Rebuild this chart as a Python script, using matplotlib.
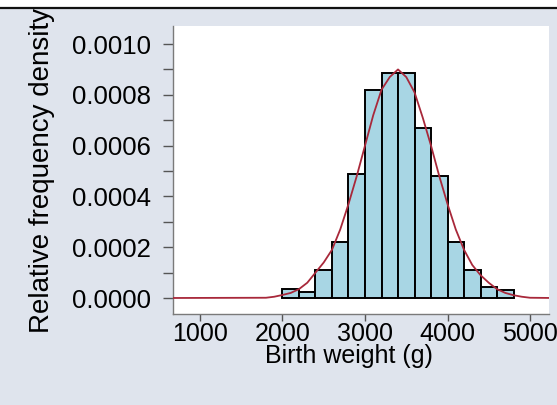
import matplotlib
matplotlib.use("Agg")
import matplotlib.pyplot as plt
from matplotlib.patches import Rectangle
from matplotlib.lines import Line2D
from matplotlib.ticker import FixedLocator

# ---- data ----
bin_left = [2000, 2200, 2400, 2600, 2800, 3000, 3200, 3400, 3600, 3800, 4000, 4200, 4400, 4600]
bin_width = 200
density = [0.000034, 0.000022, 0.00011, 0.000222, 0.00049, 0.00082, 0.000885,
           0.000885, 0.00067, 0.00048, 0.00022, 0.00011, 0.000042, 0.000031]

curve_x = [600, 1800, 1900, 2000, 2100, 2200, 2300, 2400, 2500, 2600, 2700, 2800, 2900,
           3000, 3100, 3200, 3300, 3400, 3500, 3600, 3700, 3800, 3900, 4000, 4100,
           4200, 4300, 4400, 4500, 4600, 4700, 4800, 4900, 5000, 5300]
curve_y = [0.0, 0.000001, 0.000005, 0.000012, 0.00002, 0.000035, 0.00006, 0.0001,
           0.00014, 0.00019, 0.00027, 0.00037, 0.00048, 0.0006, 0.00072, 0.00082,
           0.00087, 0.0009, 0.00087, 0.00081, 0.00071, 0.0006, 0.00048, 0.00037,
           0.00027, 0.00019, 0.00013, 0.00009, 0.00006, 0.000035, 0.00002,
           0.000011, 0.000005, 0.000001, 0.0]

x_ticks = [1000, 2000, 3000, 4000, 5000]
y_ticks = [0.0, 0.0002, 0.0004, 0.0006, 0.0008, 0.0010]
y_minor = [0.0001, 0.0003, 0.0005, 0.0007, 0.0009]
x_label = "Birth weight (g)"
y_label = "Relative frequency density"

# ---- figure ----
W, H = 557, 405
bg = "#dfe4ed"
plt.rcParams['font.family'] = ['Liberation Sans', 'DejaVu Sans']
fig = plt.figure(figsize=(W / 100, H / 100), dpi=100, facecolor=bg)

# top white strip and dark rule
fig.patches.append(Rectangle((0, 1 - 7 / H), 1, 7 / H, transform=fig.transFigure,
                             facecolor="white", edgecolor="none", zorder=0))
fig.lines.append(Line2D([0, 1], [1 - 8 / H, 1 - 8 / H], transform=fig.transFigure,
                        color="#111111", lw=1.6))

ax = fig.add_axes([173 / W, 1 - 314 / H, (549 - 173) / W, (314 - 25.5) / H])
ax.set_facecolor("white")

ax.bar(bin_left, density, width=bin_width, align="edge", color="#a8d6e4",
       edgecolor="black", linewidth=1.4, zorder=2)
ax.plot(curve_x, curve_y, color="#a8283a", lw=1.3, zorder=3)

ax.set_xlim(673, 5230)
ax.set_ylim(-0.000063, 0.001073)

ax.set_xticks(x_ticks)
ax.set_xticklabels([str(t) for t in x_ticks])
ax.set_yticks(y_ticks)
ax.set_yticklabels(["%.4f" % t for t in y_ticks])
ax.yaxis.set_minor_locator(FixedLocator(y_minor))

for s in ["top", "right"]:
    ax.spines[s].set_visible(False)
for s in ["left", "bottom"]:
    ax.spines[s].set_color("#7a7a7a")
    ax.spines[s].set_linewidth(1.0)

ax.tick_params(axis="both", which="both", direction="out", color="#555555", width=1.0)
ax.tick_params(axis="y", which="major", length=7, labelsize=18.5, pad=9)
ax.tick_params(axis="y", which="minor", length=7)
ax.tick_params(axis="x", which="major", length=5, labelsize=18, pad=1)

ax.set_xlabel(x_label, fontsize=18)
ax.xaxis.set_label_coords((349 - 173) / (549 - 173), (314 - 344) / (314 - 25.5))

fig.text(42 / W, 1 - 333 / H, y_label, rotation=90, ha="center", va="bottom",
         fontsize=20)

fig.savefig("out.png", dpi=100, facecolor=bg)
